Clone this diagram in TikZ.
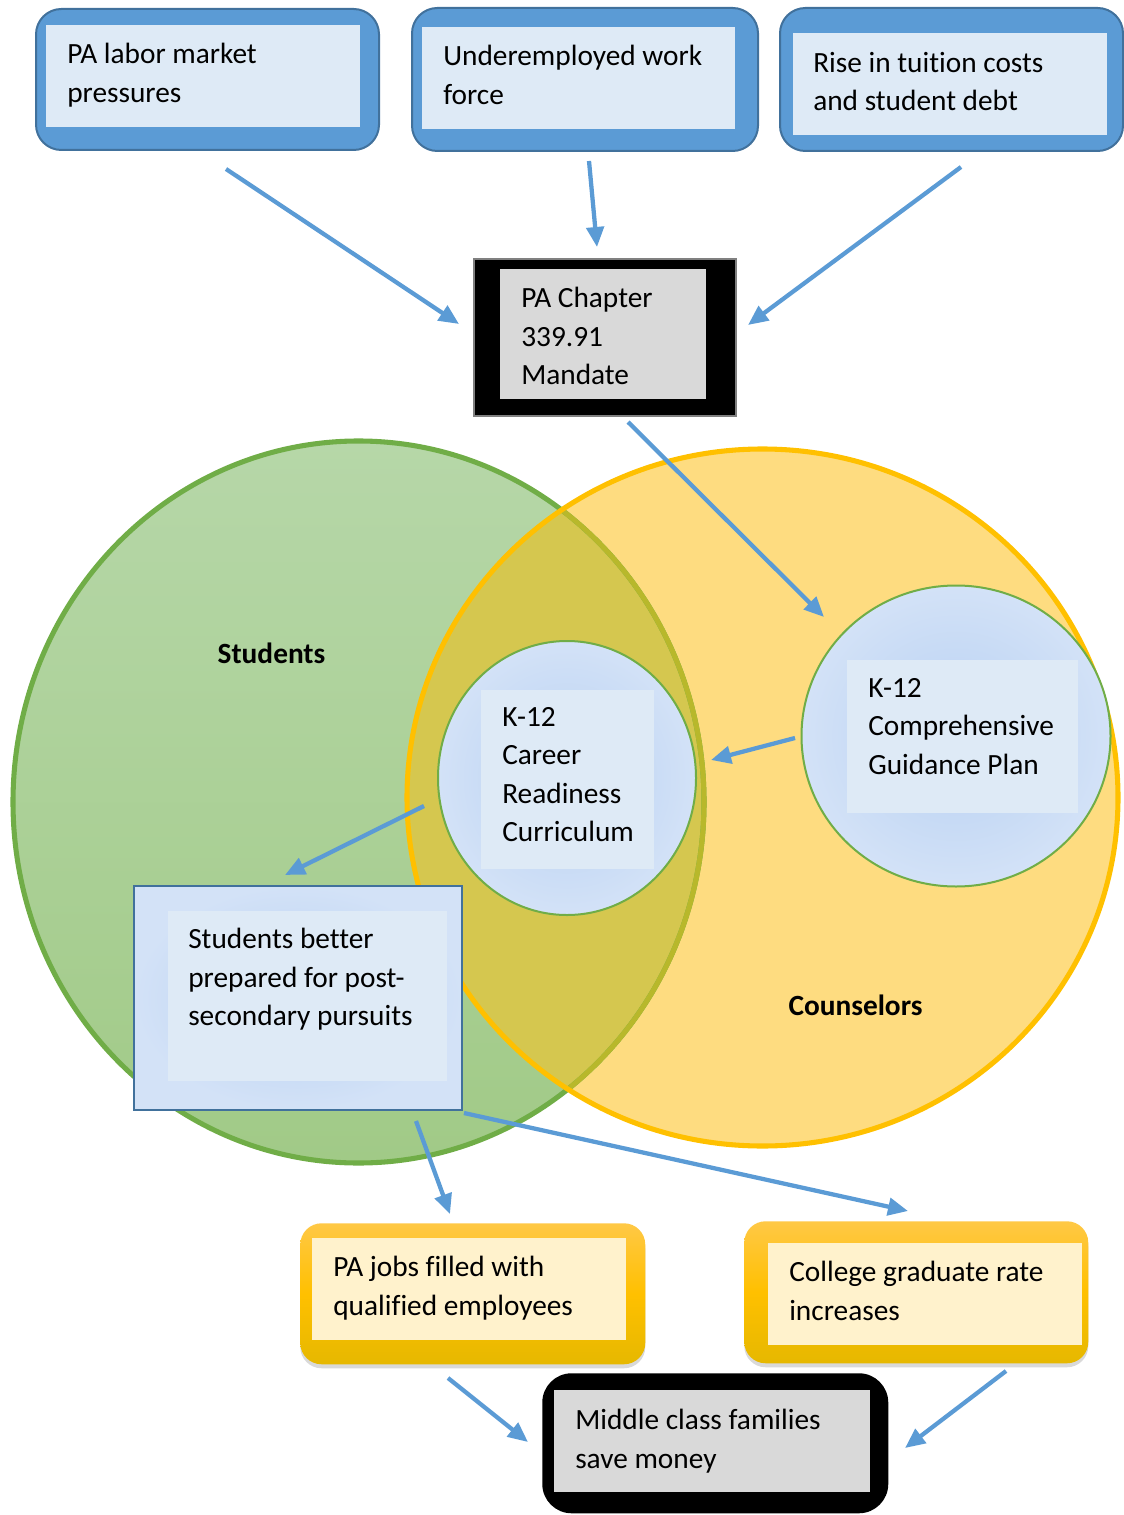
\documentclass[tikz,border=0pt]{standalone}
\usepackage{fontspec}
\setmainfont{Carlito}[Ligatures={NoCommon}]
\usetikzlibrary{arrows.meta,shadows,shapes.geometric}
\definecolor{arrowblue}{HTML}{5B9BD5}
\definecolor{bluemid}{HTML}{5B9BD5}
\definecolor{bluedark}{HTML}{41719C}
\definecolor{bluelight}{HTML}{DEEAF6}
\definecolor{greytxt}{HTML}{D9D9D9}
\definecolor{greyedge}{HTML}{808080}
\definecolor{creamtxt}{HTML}{FFF2CC}
\definecolor{greentop}{HTML}{B6D7A8}
\definecolor{greenbot}{HTML}{A1CA87}
\definecolor{greenline}{HTML}{70AD47}
\definecolor{yellowfill}{HTML}{FEDC80}
\definecolor{yellowline}{HTML}{FFC000}
\definecolor{overlapfill}{HTML}{D5C74F}
\definecolor{oliveline}{HTML}{B8B82B}
\definecolor{goldtop}{HTML}{FFC846}
\definecolor{goldmid}{HTML}{FFC000}
\definecolor{goldbot}{HTML}{E6B800}
\definecolor{circin}{HTML}{B7D0F2}
\definecolor{circout}{HTML}{D3E2F7}
\begin{document}
\begin{tikzpicture}[x=0.75pt,y=-0.75pt,
  sz/.style 2 args={minimum width=#1*0.75pt, minimum height=#2*0.75pt},
  txt/.style={font=\fontsize{22}{28.8}\selectfont, align=left, anchor=north west, inner sep=0pt},
  lbl/.style={font=\fontsize{22}{26}\selectfont\bfseries, anchor=base, inner sep=0pt},
  topbox/.style={draw=bluedark, fill=bluemid, line width=1.5pt, rounded corners=19pt, anchor=north west, inner sep=0pt},
  lightrect/.style={fill=bluelight, anchor=north west, inner sep=0pt},
  greyrect/.style={fill=greytxt, anchor=north west, inner sep=0pt},
  creamrect/.style={fill=creamtxt, anchor=north west, inner sep=0pt},
  blackbox/.style={fill=black, anchor=north west, inner sep=0pt},
  goldbox/.style={top color=goldtop, bottom color=goldbot, middle color=goldmid, rounded corners=16pt, anchor=north west, inner sep=0pt,
     drop shadow={shadow xshift=0pt, shadow yshift=-3pt, opacity=0.25, fill=black!60}},
  bubble/.style={ellipse, draw=greenline, line width=1.5pt, shading=radial, inner color=circin, outer color=circout, inner sep=0pt},
  arr/.style={draw=arrowblue, line width=3.2pt, -{Triangle[length=15pt,width=13pt]}}
]
\useasboundingbox (0,0) rectangle (1123,1515);

% Venn diagram
\fill[top color=greentop, bottom color=greenbot] (358.5,802) ellipse [x radius=345.5, y radius=361];
\fill[yellowfill] (762.5,797.5) ellipse [x radius=355.5, y radius=348.5];
\begin{scope}
  \clip (358.5,802) ellipse [x radius=345.5, y radius=361];
  \fill[overlapfill] (762.5,797.5) ellipse [x radius=355.5, y radius=348.5];
\end{scope}
\draw[greenline, line width=3.8pt] (358.5,802) ellipse [x radius=345.5, y radius=361];
\begin{scope}
  \clip (762.5,797.5) ellipse [x radius=355.5, y radius=348.5];
  \draw[oliveline, line width=3.8pt] (358.5,802) ellipse [x radius=345.5, y radius=361];
\end{scope}
\draw[yellowline, line width=3.8pt] (762.5,797.5) ellipse [x radius=355.5, y radius=348.5];

\node[lbl] (students) at (271.5,663) {Students};
\node[lbl] (counselors) at (855.5,1015) {Counselors};

% inner circles
\node[bubble, sz={258}{274}] (career) at (567,778) {};
\node[lightrect, sz={173}{179}] (careeri) at (481,690) {};
\node[txt] (careert) at (502,707) {K-12\\Career\\Readiness\\Curriculum};

\node[bubble, sz={309}{301}] (guide) at (956,736) {};
\node[lightrect, sz={231}{153}] (guidei) at (847,660) {};
\node[txt] (guidet) at (868,678) {K-12\\Comprehensive\\Guidance Plan};

% students better prepared box
\node[draw=bluedark, line width=1.5pt, shading=radial, inner color=circin, outer color=circout, anchor=north west, inner sep=0pt, sz={328}{224}] (prep) at (133,885) {};
\node[lightrect, sz={279}{170}] (prepi) at (168,911) {};
\node[txt] (prept) at (188,928) {Students better\\prepared for post-\\secondary pursuits};

% top boxes
\node[topbox, sz={343}{141}] (b1) at (35,8) {};
\node[lightrect, sz={314}{102}] (b1i) at (46,25) {};
\node[txt] (b1t) at (67,43) {PA labor market\\pressures};

\node[topbox, sz={346}{143}] (b2) at (411,7) {};
\node[lightrect, sz={313}{102}] (b2i) at (422,27) {};
\node[txt] (b2t) at (443,45) {Underemployed work\\force};

\node[topbox, sz={343}{143}] (b3) at (779,7) {};
\node[lightrect, sz={314}{102}] (b3i) at (793,33) {};
\node[txt] (b3t) at (813,52) {Rise in tuition costs\\and student debt};

% mandate box
\node[blackbox, draw=greyedge, line width=1.5pt, sz={262}{157}] (man) at (473,258) {};
\node[greyrect, sz={206}{130}] (mani) at (500,269) {};
\node[txt] (mant) at (521,287) {PA Chapter\\339.91\\Mandate};

% bottom boxes
\node[goldbox, sz={345}{141}] (jobs) at (300,1223) {};
\node[creamrect, sz={314}{102}] (jobsi) at (312,1238) {};
\node[txt] (jobst) at (333,1256) {PA jobs filled with\\qualified employees};

\node[goldbox, sz={344}{142}] (coll) at (744,1221) {};
\node[creamrect, sz={314}{102}] (colli) at (768,1243) {};
\node[txt] (collt) at (789,1261) {College graduate rate\\increases};

\node[blackbox, rounded corners=22pt, sz={346}{140}] (mid) at (542,1373) {};
\node[greyrect, sz={316}{102}] (midi) at (554,1390) {};
\node[txt] (midt) at (575,1409) {Middle class families\\save money};

% arrow end points
\coordinate (a1s) at (226,169);  \coordinate (a1e) at (459,324);
\coordinate (a2s) at (589,161);  \coordinate (a2e) at (597,247);
\coordinate (a3s) at (961,167);  \coordinate (a3e) at (748,325);
\coordinate (a4s) at (628,422);  \coordinate (a4e) at (824,617);
\coordinate (a5s) at (795,738);  \coordinate (a5e) at (711,760);
\coordinate (a6s) at (424,806);  \coordinate (a6e) at (285,875);
\coordinate (a7s) at (416,1121); \coordinate (a7e) at (450,1214);
\coordinate (a8s) at (464,1113); \coordinate (a8e) at (908,1211);
\coordinate (a9s) at (448,1378); \coordinate (a9e) at (528,1442);
\coordinate (a10s) at (1006,1371); \coordinate (a10e) at (905,1448);

\draw[arr] (a1s) -- (a1e);
\draw[arr] (a2s) -- (a2e);
\draw[arr] (a3s) -- (a3e);
\draw[arr] (a4s) -- (a4e);
\draw[arr] (a5s) -- (a5e);
\draw[arr] (a6s) -- (a6e);
\draw[arr] (a7s) -- (a7e);
\draw[arr] (a8s) -- (a8e);
\draw[arr] (a9s) -- (a9e);
\draw[arr] (a10s) -- (a10e);
\end{tikzpicture}
\end{document}
